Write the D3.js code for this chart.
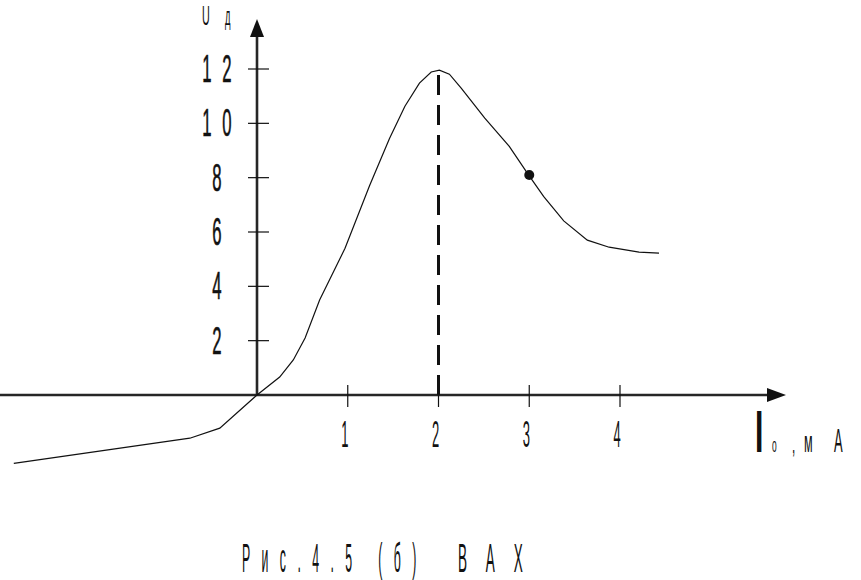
<!DOCTYPE html>
<html><head><meta charset="utf-8">
<script src="https://cdn.jsdelivr.net/npm/d3@7/dist/d3.min.js"></script>
<style>
body{margin:0;background:#fff}
text{font-family:"Liberation Sans",Arial,sans-serif;fill:#111}
</style>
</head><body>
<svg id="chart" width="861" height="580"></svg>
<script>
// ---- data ----
const currentI = [-2.68,-0.74,-0.41,0,0.25,0.40,0.53,0.69,0.97,1.24,1.46,1.63,1.79,1.92,2.01,2.12,2.25,2.51,2.78,2.99,3.16,3.38,3.64,3.88,4.21,4.43];
const voltageU = [-2.52,-1.59,-1.22,0,0.66,1.29,2.10,3.50,5.40,7.70,9.44,10.63,11.48,11.89,11.96,11.81,11.30,10.19,9.15,8.11,7.30,6.41,5.70,5.44,5.26,5.22];
const xTicks = [1,2,3,4];
const yTicks = [2,4,6,8,10,12];
const peakI = [2], peakU = [11.96];
const markI = [3], markU = [8.1];
const captionMain = "Рис.4.5 (б)";
const captionTail = "ВАХ";

const svg = d3.select("#chart");
const x = d3.scaleLinear().domain([0,4]).range([257,620]);
const y = d3.scaleLinear().domain([0,12]).range([395,69]);
const x0 = x(0), y0 = y(0);

// axes lines
const axisColor = "#262626";
svg.append("line").attr("x1",0).attr("x2",772).attr("y1",y0).attr("y2",y0)
  .attr("stroke",axisColor).attr("stroke-width",2.6);
svg.append("line").attr("x1",x0).attr("x2",x0).attr("y1",y0).attr("y2",32)
  .attr("stroke",axisColor).attr("stroke-width",2.6);
// arrowheads
svg.append("path").attr("d",`M${x0},19 L${x0-7},37 L${x0+7},37 Z`).attr("fill","#111");
svg.append("path").attr("d",`M786,${y0} L767,${y0-7} L767,${y0+7} Z`).attr("fill","#111");

// ticks
svg.selectAll(".xt").data(xTicks).join("line")
  .attr("x1",d=>x(d)).attr("x2",d=>x(d)).attr("y1",y0-10).attr("y2",y0+12)
  .attr("stroke","#111").attr("stroke-width",1.2);
svg.selectAll(".yt").data(yTicks).join("line")
  .attr("x1",x0-9).attr("x2",x0+12).attr("y1",d=>y(d)).attr("y2",d=>y(d))
  .attr("stroke","#111").attr("stroke-width",1.2);

// condensed text helper
function ctext(str, px, py, fs, sx, opts={}){
  const t = svg.append("text")
    .attr("transform",`translate(${px},${py}) scale(${sx},1)`)
    .attr("font-size",fs)
    .attr("text-anchor",opts.anchor||"start")
    .attr("font-weight",opts.weight||"normal")
    .text(str);
  if(opts.ls) t.attr("letter-spacing",opts.ls);
  if(opts.sw) t.attr("stroke","#111").attr("stroke-width",opts.sw);
  return t;
}

// y tick labels (digits spaced apart)
yTicks.forEach(v=>{
  const chars = String(v).split("");
  chars.forEach((c,i)=>{
    const cx = 217 + (i-(chars.length-1)/2)*20;
    svg.append("text").attr("transform",`translate(${cx},${y(v)+13}) scale(0.44,1)`)
      .attr("font-size",38).attr("text-anchor","middle")
      .attr("stroke","#111").attr("stroke-width",0.6).text(c);
  });
});

// x tick labels
svg.selectAll(".xl").data(xTicks).join("text")
  .attr("transform",d=>`translate(${x(d)-3},447) scale(0.36,1)`)
  .attr("font-size",36).attr("text-anchor","middle").text(d=>d);

// axis titles
ctext("U",202,25,27,0.4);
ctext("д",225,25,26,0.36);
ctext("I",755,452,60,0.5,{weight:"bold"});
ctext("о",772,452,20,0.42);
ctext(",",792,453,28,0.42);
ctext("м",804,452,30,0.42);
ctext("А",834,452,34,0.38);

// dashed line at peak
svg.selectAll(".dash").data(peakI).join("line")
  .attr("x1",d=>x(d)).attr("x2",d=>x(d))
  .attr("y1",y0).attr("y2",(d,i)=>y(peakU[i]))
  .attr("stroke","#111").attr("stroke-width",3)
  .attr("stroke-dasharray","20,10");

// curve
const pts = currentI.map((v,i)=>[v,voltageU[i]]);
svg.append("path").datum(pts)
  .attr("d",d3.line().x(d=>x(d[0])).y(d=>y(d[1])).curve(d3.curveLinear))
  .attr("fill","none").attr("stroke","#111").attr("stroke-width",1.2);

// marked point
svg.selectAll(".dot").data(markI).join("circle")
  .attr("cx",d=>x(d)).attr("cy",(d,i)=>y(markU[i])).attr("r",5).attr("fill","#111");

// caption
ctext(captionMain,242,572,41,0.3,{ls:38});
ctext(captionTail,458,572,41,0.33,{ls:58});
</script>
</body></html>
